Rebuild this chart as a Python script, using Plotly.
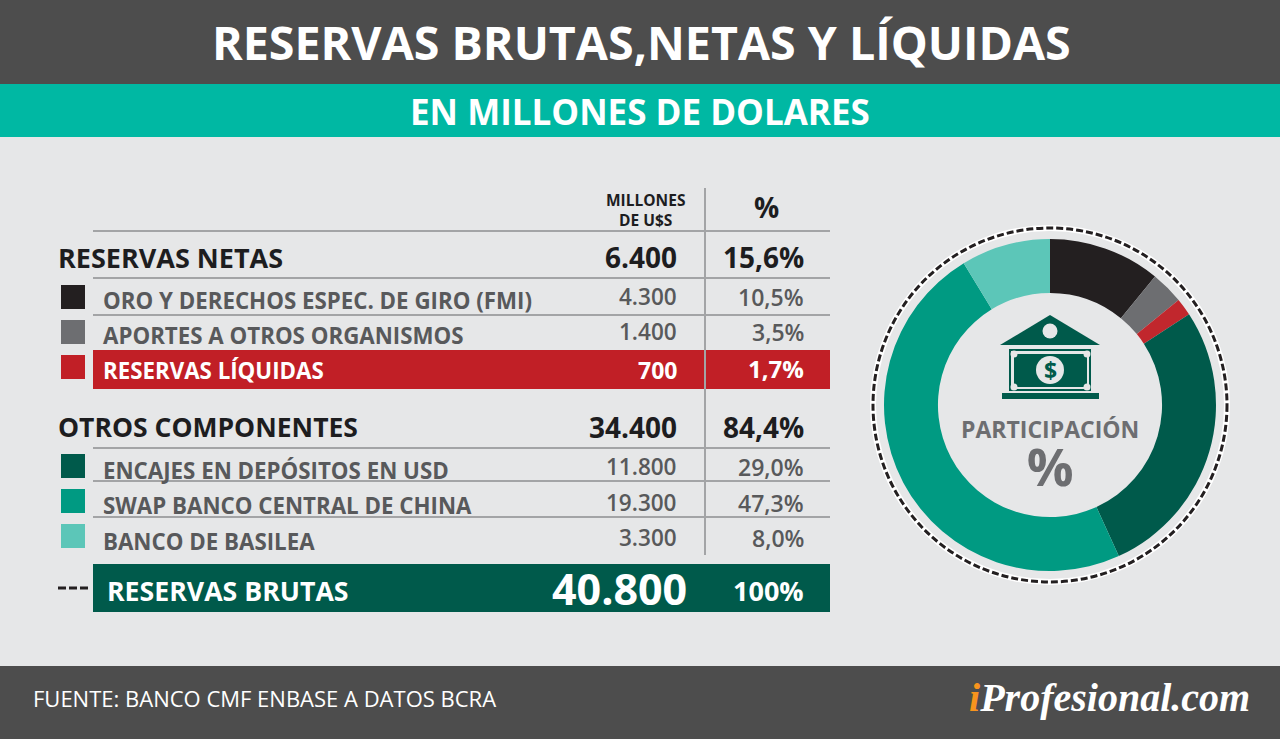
import plotly.graph_objects as go

W, H = 1280, 739
slice_names = ["Oro y derechos espec. de giro (FMI)", "Aportes a otros organismos", "Reservas líquidas",
               "Encajes en depósitos en USD", "Swap Banco Central de China", "Banco de Basilea"]
# shares as actually drawn in the reference's donut (measured from its slice boundaries)
slice_values = [10.9, 3.2, 1.7, 27.4, 48.1, 8.7]
slice_colors = ["#231f20", "#6d6e71", "#c1272d", "#005a4b", "#009a82", "#5cc6b8"]

title_text = "RESERVAS BRUTAS,NETAS Y LÍQUIDAS"
subtitle_text = "EN MILLONES DE DOLARES"
source_text = "FUENTE: BANCO CMF ENBASE A DATOS BCRA"
logo_text = "<span style='color:#f7941d'>i</span>Profesional.com"
center_text = "<span style='font-size:23px'>PARTICIPACIÓN</span><br><span style='font-size:52px'>%</span>"

group_rows = [("RESERVAS NETAS", "6.400", "15,6%", 257), ("OTROS COMPONENTES", "34.400", "84,4%", 427)]
detail_labels = ["ORO Y DERECHOS ESPEC. DE GIRO (FMI)", "APORTES A OTROS ORGANISMOS",
                 "ENCAJES EN DEPÓSITOS EN USD", "SWAP BANCO CENTRAL DE CHINA", "BANCO DE BASILEA"]
detail_millions = ["4.300", "1.400", "11.800", "19.300", "3.300"]
detail_pct = ["10,5%", "3,5%", "29,0%", "47,3%", "8,0%"]
detail_y = [299, 334, 469, 505, 540]
swatch_y = [297, 332, 466, 501, 536]
swatch_colors = ["#231f20", "#6d6e71", "#005a4b", "#009a82", "#5cc6b8"]

FONT = "Open Sans"
BG = "#e6e7e8"; DARK = "#4d4d4d"; TEAL = "#00b8a3"; GREEN = "#005a4b"; RED = "#c11f26"
GRAY = "#58595b"; INK = "#1d1d1f"; RULE = "#a3a4a6"

X = lambda p: p / W
Y = lambda p: 1 - p / H
shapes, ann = [], []

def rect(x0, y0, x1, y1, color, layer="below"):
    shapes.append(dict(type="rect", xref="paper", yref="paper", x0=X(x0), x1=X(x1), y0=Y(y0), y1=Y(y1),
                       fillcolor=color, line=dict(width=0), layer=layer))

def line(x0, y0, x1, y1, color=RULE, width=2, dash="solid"):
    shapes.append(dict(type="line", xref="paper", yref="paper", x0=X(x0), x1=X(x1), y0=Y(y0), y1=Y(y1),
                       line=dict(color=color, width=width, dash=dash), layer="below"))

def circle(cx, cy, r, fill="rgba(0,0,0,0)", lc="rgba(0,0,0,0)", lw=0, dash="solid", layer="below"):
    shapes.append(dict(type="circle", xref="paper", yref="paper", x0=X(cx - r), x1=X(cx + r), y0=Y(cy + r), y1=Y(cy - r),
                       fillcolor=fill, line=dict(color=lc, width=lw, dash=dash), layer=layer))

def text(x, y, s, size, color, anchor="left", weight=700, family=FONT, style="normal"):
    ann.append(dict(xref="paper", yref="paper", x=X(x), y=Y(y), text=s, showarrow=False, xanchor=anchor,
                    yanchor="middle", align=anchor, borderpad=0,
                    font=dict(family=family, size=size, color=color, weight=weight, style=style)))

# bands
rect(0, 0, W, 84, DARK)
rect(0, 84, W, 137, TEAL)
rect(0, 666, W, H, DARK)
text(641, 42, title_text, 46.6, "#ffffff", "center")
text(640, 112, subtitle_text, 35, "#ffffff", "center")
text(32, 698, source_text, 22, "#ffffff", weight=400)
text(1251, 697, logo_text, 40, "#ffffff", "right", family="Liberation Serif", style="italic")

# table rules
for y in (231, 278, 315, 448, 481, 517):
    line(93, y, 830, y)
rect(93, 350, 830, 389, RED)
line(705, 188, 705, 555)
rect(93, 564, 830, 612, GREEN)

text(645, 210, "MILLONES<br>DE U$S", 15.5, INK, "center")
text(766, 207, "%", 28, INK, "center")

for (name, m, p, y), size in zip(group_rows, (27, 26.5)):
    text(57, y, name, size, INK)
    text(678, y, m, 28, INK, "right")
    text(805, y, p, 28, INK, "right")
for name, m, p, y in zip(detail_labels, detail_millions, detail_pct, detail_y):
    text(102, y + 1, name, 22.3, GRAY)
    text(678, y - 3, m, 22.5, GRAY, "right", weight=600)
    text(805, y - 2, p, 23, GRAY, "right", weight=600)
for y, c in zip(swatch_y, swatch_colors):
    rect(61, y - 12, 85, y + 12, c)

rect(61, 355, 85, 379, RED)
text(102, 370, "RESERVAS LÍQUIDAS", 22.3, "#ffffff")
text(678, 370, "700", 23, "#ffffff", "right")
text(805, 368, "1,7%", 24, "#ffffff", "right")

line(58, 588, 89, 588, "#231f20", 3, "8px,3px")
text(106, 590, "RESERVAS BRUTAS", 26.7, "#ffffff")
text(688, 588, "40.800", 43, "#ffffff", "right")
text(805, 590, "100%", 27, "#ffffff", "right")

# donut surround
circle(1050, 405, 177, lc="#ffffff", lw=6)
circle(1050, 405, 177, lc="#231f20", lw=3, dash="7px,3px")

# bank icon
shapes.append(dict(type="path", xref="paper", yref="paper", layer="above",
                   path=f"M {X(1000)} {Y(345)} L {X(1050)} {Y(315)} L {X(1100)} {Y(345)} Z",
                   fillcolor=GREEN, line=dict(width=0)))
circle(1050, 331, 7.5, fill=BG, layer="above")
shapes.append(dict(type="rect", xref="paper", yref="paper", x0=X(1010), x1=X(1090), y0=Y(390), y1=Y(350),
                   fillcolor=BG, line=dict(color=GREEN, width=2), layer="above"))
rect(1014, 354, 1087, 387, GREEN, layer="above")
for nx in (1014, 1087):
    for ny in (354, 387):
        circle(nx, ny, 3.5, fill=BG, layer="above")
circle(1050, 370, 14, fill=BG, layer="above")
rect(1002, 393, 1099, 399, GREEN, layer="above")
text(1050, 370, "$", 23, GREEN, "center")
text(1050, 457, center_text, 37, "#6d6e71", "center")

fig = go.Figure(go.Pie(labels=slice_names, values=slice_values, sort=False, direction="clockwise", rotation=0,
                       hole=0.675, marker=dict(colors=slice_colors, line=dict(width=0)), textinfo="none",
                       hoverinfo="label+percent", showlegend=False,
                       domain=dict(x=[X(884), X(1216)], y=[Y(571), Y(239)])))
fig.update_layout(width=W, height=H, margin=dict(l=0, r=0, t=0, b=0), paper_bgcolor=BG, plot_bgcolor=BG,
                  shapes=shapes, annotations=ann, showlegend=False)
fig.write_html("out.html", config=dict(displayModeBar=False),
               post_script="document.body.style.margin='0';document.body.style.overflow='hidden';")
